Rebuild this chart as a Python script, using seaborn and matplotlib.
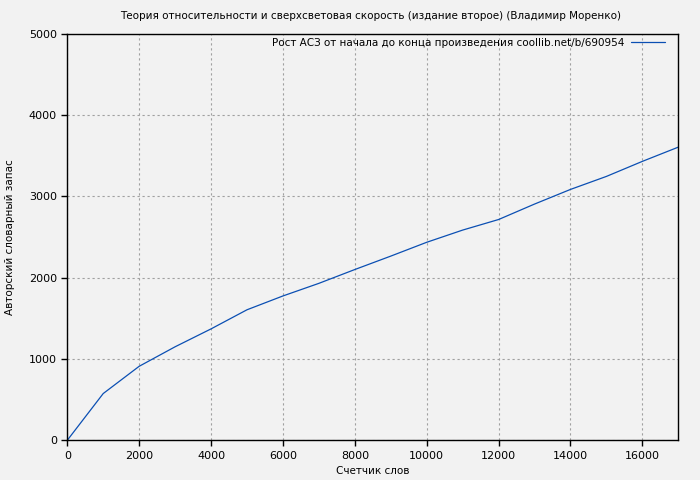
import numpy as np
import pandas as pd
import matplotlib
matplotlib.use("Agg")
import matplotlib.pyplot as plt
import seaborn as sns

# данные: счетчик слов и авторский словарный запас
words = [0, 1000, 2000, 3000, 4000, 5000, 6000, 7000, 8000, 9000,
         10000, 11000, 12000, 13000, 14000, 15000, 16000, 17000]
vocab = [0, 575, 910, 1150, 1370, 1605, 1775, 1930, 2100, 2265,
         2435, 2585, 2715, 2905, 3085, 3245, 3430, 3605]

title = "Теория относительности и сверхсветовая скорость (издание второе) (Владимир Моренко)"
label = "Рост АСЗ от начала до конца произведения coollib.net/b/690954"

df = pd.DataFrame({"words": words, "vocab": vocab})

sns.set_style("white")
plt.rcParams["font.family"] = ["DejaVu Sans"]
plt.rcParams["text.color"] = "black"
plt.rcParams["axes.labelcolor"] = "black"
bg = "#f2f2f2"

fig = plt.figure(figsize=(7, 4.8), dpi=100, facecolor=bg)
ax = fig.add_axes([0.0961, 0.0827, 0.969 - 0.0961, 0.9298 - 0.0827])
ax.set_facecolor(bg)

sns.lineplot(data=df, x="words", y="vocab", ax=ax, color="#0b4fb3",
             linewidth=0.9, label=label)

ax.set_xlim(0, 17000)
ax.set_ylim(0, 5000)
ax.set_xticks(np.arange(0, 17000, 2000))
ax.set_yticks(np.arange(0, 5001, 1000))
ax.grid(True, color="#a0a0a0", linestyle=(0, (2, 2.5)), linewidth=0.8)
for s in ax.spines.values():
    s.set_color("black")
    s.set_linewidth(1.0)
ax.tick_params(axis="both", direction="out", length=4, width=1,
               labelsize=8, colors="black", bottom=True, left=True)

ax.set_xlabel("Счетчик слов", fontsize=7.5, labelpad=4)
ax.set_ylabel("Авторский словарный запас", fontsize=7.5, labelpad=10)
fig.text(0.53, 0.966, title, ha="center", va="center", fontsize=7.5)

leg = ax.legend(loc="upper right", frameon=False, fontsize=7.5,
                markerfirst=False, handlelength=3.25, borderaxespad=0.1,
                borderpad=0.3, handletextpad=0.6)
leg.set_bbox_to_anchor((0.985, 1.0), transform=ax.transAxes)

fig.savefig("out.png", dpi=100, facecolor=bg)
